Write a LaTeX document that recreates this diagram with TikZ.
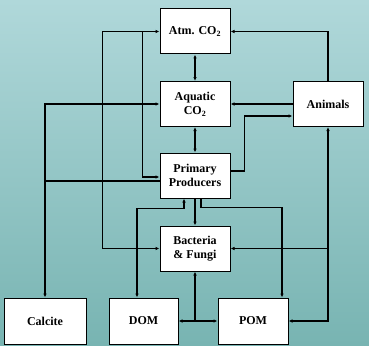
\documentclass[tikz,border=0pt]{standalone}
\usepackage{fontspec}
\setmainfont{Liberation Serif}
\usetikzlibrary{arrows.meta}

\begin{document}
\begin{tikzpicture}[x=1pt,y=-1pt,
  box/.style={draw,fill=white,line width=1pt,minimum width=70pt,minimum height=45pt,
    inner sep=0pt,align=center,font=\fontsize{12}{14}\selectfont\bfseries},
  link/.style={line width=1.25pt},
  >={Latex[length=4pt,width=3.5pt]}]
  \shade[top color={rgb,255:red,176;green,216;blue,218},
         bottom color={rgb,255:red,120;green,180;blue,178}] (0,0) rectangle (369,345);
  % boxes
  \node[box] (atm) at (195,31.5) {Atm. CO\textsubscript{2}};
  \node[box] (aq) at (195,104) {Aquatic\\CO\textsubscript{2}};
  \node[box] (pp) at (195,175.5) {Primary\\Producers};
  \node[box] (bact) at (195,248.5) {Bacteria\\\& Fungi};
  \node[box] (anim) at (328,104) {Animals};
  \node[box,minimum width=82pt,minimum height=46pt] (calc) at (45,321) {Calcite};
  \node[box,minimum width=69pt,minimum height=46pt] (dom) at (143.5,321) {DOM};
  \node[box,minimum height=46pt] (pom) at (253,321) {POM};
  % centre column
  \draw[link,<->] (atm) -- (aq);
  \draw[link,<->] (aq) -- (pp);
  \draw[link,->] (pp) -- (bact);
  % animals
  \draw[link,->] (anim.north) |- (atm.east);
  \draw[link,->] (anim.west) -- (aq.east);
  \draw[link,->] ([yshift=4.5pt]pp.east) -- ++(14,0) |- ([yshift=-12pt]anim.west);
  \draw[link,<->] (pom.east) -| (anim.south);
  \draw[link,->] (bact.east -| anim.south) -- (bact.east);
  % left side
  \draw[link,<->] (atm.west) -- ++(-57,0) |- (bact.west);
  \draw[link,->] ([xshift=-17pt]atm.west) |- ([yshift=-1.5pt]pp.west);
  \draw[link,<->] (aq.west) -| (calc.north);
  \draw[link] ([yshift=-5.5pt]pp.west) -- ++(-115,0);
  % bottom
  \draw[link,<->] ([xshift=-11pt]pp.south) -- ++(0,10) -| ([xshift=-6.5pt]dom.north);
  \draw[link,->] ([xshift=6pt]pp.south) -- ++(0,9) -| ([xshift=29pt]pom.north);
  \draw[link,<->] (dom.east) -- (pom.west);
  \draw[link,->] (dom.east -| bact.south) -- (bact.south);
\end{tikzpicture}
\end{document}
